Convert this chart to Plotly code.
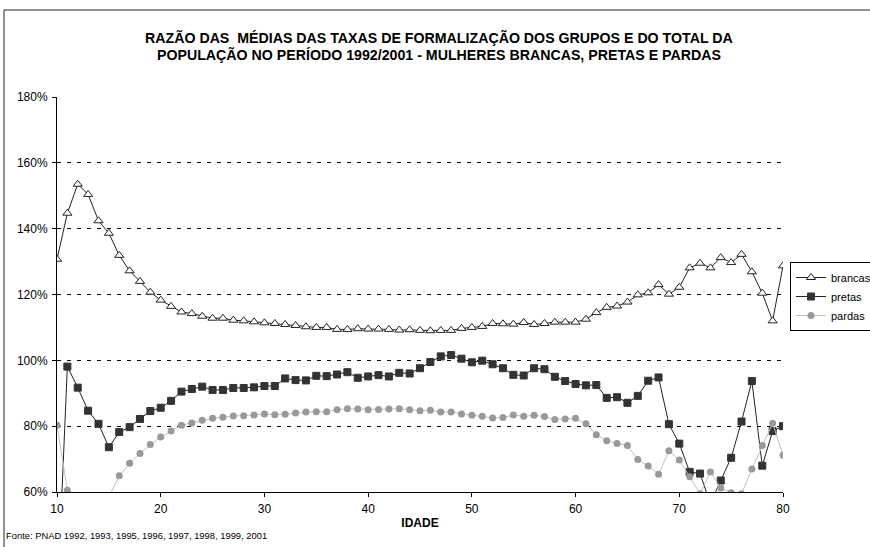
import plotly.graph_objects as go

# ---------------------------------
# Dados
# ---------------------------------
idade = list(range(10, 81))

brancas = [
    130.7, 144.7, 153.5, 150.4, 142.4, 138.6, 131.9, 127.2, 124.0, 120.7,
    118.3, 116.4, 114.7, 114.2, 113.4, 112.8, 112.8, 112.2, 112.0, 111.7,
    111.4, 111.2, 110.9, 110.6, 110.2, 110.0, 110.0, 109.4, 109.4, 109.6,
    109.5, 109.5, 109.4, 109.2, 109.3, 109.1, 109.0, 109.1, 109.1, 109.7,
    110.0, 110.3, 111.2, 111.1, 111.0, 111.5, 110.9, 111.2, 111.6, 111.6,
    111.6, 112.5, 114.5, 116.1, 116.5, 117.7, 119.9, 120.5, 123.0, 120.1,
    122.2, 128.1, 129.5, 128.1, 131.2, 129.7, 132.2, 126.9, 120.4, 112.0,
    128.7,
]

pretas = [
    25.0, 98.1, 91.7, 84.7, 80.7, 73.6, 78.2, 79.7, 82.2, 84.6,
    85.6, 87.7, 90.5, 91.3, 92.0, 91.0, 91.0, 91.6, 91.6, 91.8,
    92.2, 92.2, 94.5, 94.0, 93.9, 95.3, 95.2, 95.7, 96.4, 94.7,
    95.1, 95.5, 95.1, 96.2, 96.0, 97.6, 99.5, 101.2, 101.6, 100.5,
    99.4, 99.9, 98.8, 97.6, 95.6, 95.4, 97.6, 97.3, 95.0, 93.7,
    92.8, 92.4, 92.5, 88.6, 88.8, 87.1, 89.2, 93.8, 94.8, 80.6,
    74.7, 66.1, 65.6, 56.5, 63.5, 70.4, 81.4, 93.7, 68.0, 78.5,
    80.0,
]

pardas = [
    80.3, 60.5, 55.0, 52.0, 55.0, 58.5, 64.9, 68.7, 71.7, 74.4,
    76.7, 78.5, 80.3, 81.0, 81.8, 82.4, 82.7, 83.1, 83.2, 83.4,
    83.7, 83.5, 83.6, 84.0, 84.3, 84.4, 84.4, 85.0, 85.3, 85.2,
    85.0, 85.1, 85.2, 85.3, 85.0, 84.7, 84.8, 84.3, 84.3, 83.7,
    83.3, 83.0, 82.5, 82.6, 83.4, 83.0, 83.3, 82.9, 82.0, 82.2,
    82.4, 80.7, 77.4, 75.6, 74.7, 74.1, 69.9, 67.9, 65.4, 72.5,
    69.7, 64.6, 59.5, 66.1, 61.2, 59.8, 59.5, 67.0, 74.1, 80.9,
    71.2,
]

y_ticks = [60, 80, 100, 120, 140, 160, 180]
y_labels = ["60%", "80%", "100%", "120%", "140%", "160%", "180%"]
x_ticks = [10, 20, 30, 40, 50, 60, 70, 80]

titulo_1 = "RAZÃO DAS  MÉDIAS DAS TAXAS DE FORMALIZAÇÃO DOS GRUPOS E DO TOTAL DA"
titulo_2 = "POPULAÇÃO NO PERÍODO 1992/2001 - MULHERES BRANCAS, PRETAS E PARDAS"
fonte = "Fonte: PNAD 1992, 1993, 1995, 1996, 1997, 1998, 1999, 2001"

FONT = "Liberation Sans, Arial, sans-serif"

# ---------------------------------
# Figura
# ---------------------------------
fig = go.Figure()

fig.add_trace(go.Scatter(
    x=idade, y=brancas, name="brancas", mode="lines+markers",
    line=dict(color="#222222", width=1),
    marker=dict(symbol="triangle-up", size=8, color="white",
                line=dict(color="#222222", width=1)),
))
fig.add_trace(go.Scatter(
    x=idade, y=pretas, name="pretas", mode="lines+markers",
    line=dict(color="#222222", width=1),
    marker=dict(symbol="square", size=7, color="#333333",
                line=dict(color="#333333", width=1)),
))
fig.add_trace(go.Scatter(
    x=idade, y=pardas, name="pardas", mode="lines+markers",
    line=dict(color="#c0c0c0", width=1),
    marker=dict(symbol="circle", size=7, color="#999999",
                line=dict(color="#999999", width=0)),
))

# área do gráfico: x de 57 a 783 px, y de 97 a 492 px
W, H = 870, 547
L, R, T, B = 57, 87, 97, 55
pw, ph = W - L - R, H - T - B


def px(x):
    return (x - L) / pw


def py(y):
    return (H - B - y) / ph


fig.update_xaxes(
    range=[10, 80], tickvals=x_ticks, showgrid=False, zeroline=False,
    showline=True, linecolor="black", linewidth=1,
    ticks="outside", ticklen=4, tickcolor="black",
    tickfont=dict(family=FONT, size=12, color="black"),
    ticklabelstandoff=2,
    title=dict(text="<b>IDADE</b>", standoff=3,
               font=dict(family=FONT, size=12, color="black")),
)
fig.update_yaxes(
    range=[60, 180], tickvals=y_ticks, ticktext=y_labels,
    showgrid=True, gridcolor="black", gridwidth=1, griddash="4px,6px",
    zeroline=False, showline=True, linecolor="black", linewidth=1,
    ticks="outside", ticklen=4, tickcolor="black",
    tickfont=dict(family=FONT, size=12, color="black"),
    ticklabelstandoff=2,
)

fig.update_layout(
    width=W, height=H,
    margin=dict(l=L, r=R, t=T, b=B, autoexpand=False),
    paper_bgcolor="white", plot_bgcolor="white",
    showlegend=True,
    legend=dict(
        x=px(790), y=py(262), xanchor="left", yanchor="top",
        bordercolor="black", borderwidth=1, bgcolor="white",
        font=dict(family=FONT, size=11, color="black"),
        itemwidth=30, tracegroupgap=0,
    ),
    font=dict(family=FONT, color="black"),
)

# título (duas linhas)
for txt, yc in [(titulo_1, 37), (titulo_2, 54)]:
    fig.add_annotation(
        text="<b>" + txt + "</b>", xref="paper", yref="paper",
        x=px(439), y=py(yc), xanchor="center", yanchor="middle",
        showarrow=False, font=dict(family=FONT, size=14.2, color="black"),
    )

# fonte
fig.add_annotation(
    text=fonte, xref="paper", yref="paper",
    x=px(4), y=py(535), xanchor="left", yanchor="middle",
    showarrow=False, font=dict(family=FONT, size=9.4, color="black"),
)

# moldura do gráfico
fig.add_shape(
    type="rect", xref="paper", yref="paper",
    x0=px(4), x1=1.3, y0=-0.3, y1=py(10),
    line=dict(color="#222222", width=1), fillcolor="rgba(0,0,0,0)",
    layer="below",
)

# sem a margem padrão do body, a figura ocupa a janela inteira
fig.write_html(
    "out.html",
    config={"displayModeBar": False},
    post_script="document.body.style.margin='0px';",
)
